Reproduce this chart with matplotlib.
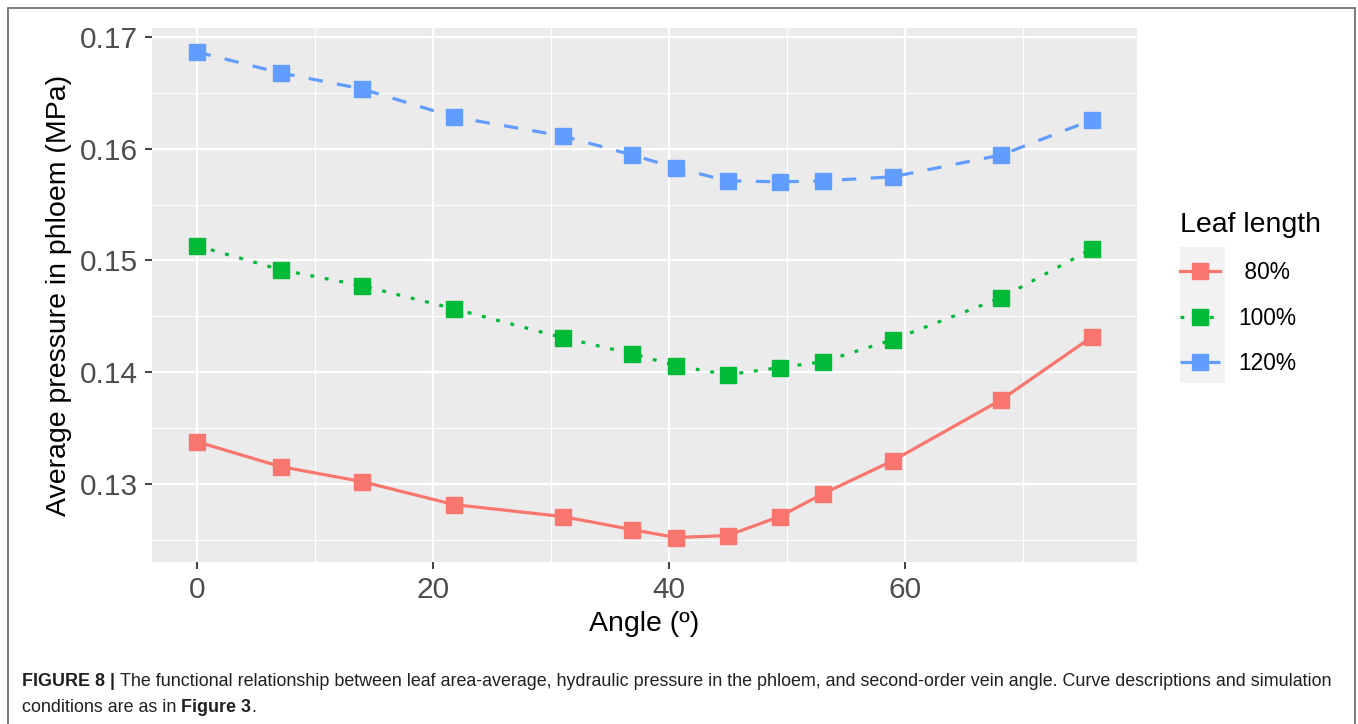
import matplotlib
matplotlib.use("Agg")
import matplotlib.pyplot as plt
from matplotlib.patches import Rectangle
from matplotlib.ticker import MultipleLocator

plt.rcParams['font.family'] = ['Liberation Sans', 'DejaVu Sans']

# ---- data ----
angles = [0, 7.1, 14.0, 21.8, 31.0, 36.9, 40.6, 45.0, 49.4, 53.1, 59.0, 68.2, 75.9]
p80 = [0.13377, 0.13154, 0.13020, 0.12814, 0.12707, 0.12590, 0.12519, 0.12537,
       0.12707, 0.12912, 0.13207, 0.13753, 0.14317]
p100 = [0.15131, 0.14916, 0.14773, 0.14567, 0.14308, 0.14165, 0.14057, 0.13977,
        0.14040, 0.14093, 0.14290, 0.14666, 0.15104]
p120 = [0.16866, 0.16678, 0.16535, 0.16284, 0.16114, 0.15944, 0.15828, 0.15712,
        0.15703, 0.15712, 0.15748, 0.15944, 0.16258]
series_labels = [' 80%', '100%', '120%']
colors = ['#F8766D', '#00BA38', '#619CFF']
xticks = [0, 20, 40, 60]
yticks = [0.13, 0.14, 0.15, 0.16, 0.17]
ytick_labels = ['0.13', '0.14', '0.15', '0.16', '0.17']

W, H = 1358, 724
fig = plt.figure(figsize=(W / 100, H / 100), dpi=100)
ax = fig.add_axes([152 / W, 1 - 562 / H, (1137 - 152) / W, (562 - 28) / H])
ax.set_facecolor('#EBEBEB')
for s in ax.spines.values():
    s.set_visible(False)

lw = 2.3
ms = 11.5
styles = [dict(linestyle='-'),
          dict(linestyle=(0, (1.2, 3.4)), dash_capstyle='butt'),
          dict(linestyle=(0, (4.5, 4.5)), dash_capstyle='butt')]
handles = []
for y, c, lab, st in zip([p80, p100, p120], colors, series_labels, styles):
    h, = ax.plot(angles, y, color=c, lw=lw, marker='s', ms=ms, mec=c, mfc=c,
                 label=lab, **st)
    handles.append(h)

xr = max(angles) - min(angles)
ax.set_xlim(min(angles) - 0.05 * xr, max(angles) + 0.05 * xr)
ax.set_ylim(0.1230, 0.1708)
ax.set_xticks(xticks)
ax.set_yticks(yticks)
ax.set_yticklabels(ytick_labels)
ax.xaxis.set_minor_locator(MultipleLocator(10))
ax.yaxis.set_minor_locator(MultipleLocator(0.005))
ax.grid(which='major', color='white', lw=1.6)
ax.grid(which='minor', color='white', lw=0.8)
ax.set_axisbelow(True)
ax.tick_params(which='major', length=5, width=1.3, color='#333333',
               labelsize=21.5, labelcolor='#4D4D4D', pad=5)
ax.tick_params(which='minor', length=0)

ax.set_xlabel('Angle (º)', fontsize=20.5, color='black', labelpad=5)
ax.set_ylabel('Average pressure in phloem (MPa)', fontsize=20.5, color='black', labelpad=6)

# legend key background
fig.add_artist(Rectangle((1180 / W, 1 - 383 / H), 45 / W, 136 / H,
                         transform=fig.transFigure, facecolor='#F2F2F2',
                         edgecolor='none', zorder=0))
leg = fig.legend(handles=handles, loc='upper left',
                 bbox_to_anchor=(1171 / W, 1 - 203 / H),
                 title='Leaf length', title_fontsize=20.5, fontsize=16.4,
                 frameon=False, handlelength=1.75, handletextpad=0.8,
                 labelspacing=1.0, alignment='left', borderaxespad=0)

# figure border
fig.add_artist(Rectangle((7.5 / W, -0.05), (1355 - 7.5) / W, 1 - 8 / H + 0.05,
                         transform=fig.transFigure, facecolor='none',
                         edgecolor='#666666', lw=1.2))

# caption
cap_kw = dict(fontsize=12.9, color='#231F20')
t1 = fig.text(22 / W, 1 - 682 / H, 'FIGURE 8 | ', fontweight='bold', va='center', **cap_kw)
a1 = fig.add_artist(plt.Annotation(
    'The functional relationship between leaf area-average, hydraulic pressure in the phloem, '
    'and second-order vein angle. Curve descriptions and simulation',
    xy=(1, 0.5), xycoords=t1, va='center', ha='left', **cap_kw))
t2 = fig.text(22 / W, 1 - 708 / H, 'conditions are as in ', va='center', **cap_kw)
a2 = fig.add_artist(plt.Annotation('Figure 3', xy=(1, 0.5), xycoords=t2,
                                   va='center', ha='left', fontweight='bold', **cap_kw))
a3 = fig.add_artist(plt.Annotation('.', xy=(1, 0.5), xycoords=a2,
                                   va='center', ha='left', **cap_kw))

fig.savefig('out.png', dpi=100)
